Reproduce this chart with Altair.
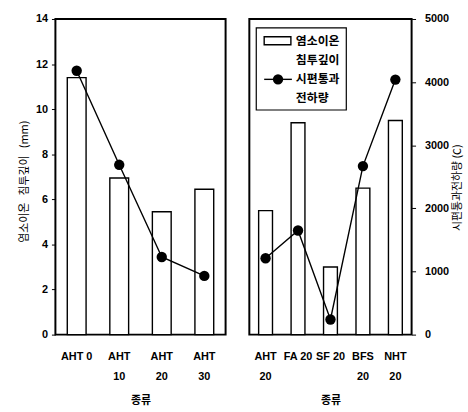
import altair as alt
import pandas as pd

# ---- data ----
left_cats = ["AHT 0", "AHT\n10", "AHT\n20", "AHT\n30"]
left_depth = [11.4, 6.95, 5.45, 6.45]
left_charge = [4180, 2690, 1230, 930]

right_cats = ["AHT\n20", "FA 20", "SF 20", "BFS\n20", "NHT\n20"]
right_depth = [5.5, 9.4, 3.0, 6.5, 9.5]
right_charge = [1210, 1650, 240, 2670, 4040]

legend_bar_text = ["염소이온", "침투깊이"]
legend_line_text = ["시편통과", "전하량"]

left_df = pd.DataFrame({"cat": left_cats, "depth": left_depth, "charge": left_charge})
right_df = pd.DataFrame({"cat": right_cats, "depth": right_depth, "charge": right_charge})

NUM_FONT = "Liberation Sans"
KR_FONT = "Noto Sans CJK KR"
NB = "\u00a0"

H = 319


def x_enc(cats):
    return alt.X(
        "cat:N",
        sort=cats,
        scale=alt.Scale(paddingInner=0, paddingOuter=0),
        axis=alt.Axis(
            title="종류",
            labelAngle=0,
            labelExpr="split(datum.label, '\\n')",
            labelFont=NUM_FONT,
            labelFontWeight="bold",
            labelFontSize=11,
            labelLineHeight=20,
            labelColor="black",
            labelPadding=22,
            labelOverlap=False,
            labelBaseline="middle",
            ticks=False,
            domain=False,
            titleFont=KR_FONT,
            titleFontSize=11,
            titleFontWeight="bold",
            titlePadding=14,
            titleColor="black",
        ),
    )


# ---- left panel ----
left_bars = alt.Chart(left_df).mark_bar(
    size=19, fill="white", stroke="black", strokeWidth=1.4
).encode(
    x=x_enc(left_cats),
    y=alt.Y(
        "depth:Q",
        scale=alt.Scale(domain=[0, 14], nice=False),
        axis=alt.Axis(
            title="염소이온" + NB * 3 + "침투깊이" + NB * 3 + "(mm)",
            values=[0, 2, 4, 6, 8, 10, 12, 14],
            grid=False,
            domain=False,
            tickColor="black",
            tickSize=4,
            labelFont=NUM_FONT,
            labelFontWeight="bold",
            labelFontSize=11,
            labelColor="black",
            labelPadding=4,
            titleFont=KR_FONT,
            titleFontSize=11,
            titleFontWeight="normal",
            titleColor="black",
            titleX=-31,
            titleY=164,
            titleAlign="center",
            titleBaseline="middle",
        ),
    ),
)

left_line = alt.Chart(left_df).mark_line(color="black", strokeWidth=1.4).encode(
    x=alt.X("cat:N", sort=left_cats),
    y=alt.Y("charge:Q", scale=alt.Scale(domain=[0, 5000], nice=False), axis=None),
)
left_pts = alt.Chart(left_df).mark_point(
    filled=True, color="black", size=110, opacity=1
).encode(
    x=alt.X("cat:N", sort=left_cats),
    y=alt.Y("charge:Q", scale=alt.Scale(domain=[0, 5000], nice=False), axis=None),
)

left = alt.layer(left_bars, left_line + left_pts).resolve_scale(y="independent").properties(
    width=172, height=H
)

# ---- right panel ----
right_bars = alt.Chart(right_df).mark_bar(
    size=14, fill="white", stroke="black", strokeWidth=1.4
).encode(
    x=x_enc(right_cats),
    y=alt.Y("depth:Q", scale=alt.Scale(domain=[0, 14], nice=False), axis=None),
)

right_axis = alt.Axis(
    orient="right",
    title="시편통과전하량 (C)",
    values=[0, 1000, 2000, 3000, 4000, 5000],
    format="d",
    grid=False,
    domain=False,
    tickColor="black",
    tickSize=4,
    labelFont=NUM_FONT,
    labelFontWeight="bold",
    labelFontSize=11,
    labelColor="black",
    labelPadding=9,
    titleFont=KR_FONT,
    titleFontSize=11,
    titleFontWeight="normal",
    titleColor="black",
    titleAngle=270,
    titleX=46,
    titleY=170,
    titleAlign="center",
    titleBaseline="middle",
)

right_line = alt.Chart(right_df).mark_line(color="black", strokeWidth=1.4).encode(
    x=alt.X("cat:N", sort=right_cats),
    y=alt.Y("charge:Q", scale=alt.Scale(domain=[0, 5000], nice=False), axis=right_axis),
)
right_pts = alt.Chart(right_df).mark_point(
    filled=True, color="black", size=110, opacity=1
).encode(
    x=alt.X("cat:N", sort=right_cats),
    y=alt.Y("charge:Q", scale=alt.Scale(domain=[0, 5000], nice=False)),
)

# ---- manual legend ----
one = pd.DataFrame({"k": [0]})
leg_box = alt.Chart(one).mark_rect(fill="white", stroke="black", strokeWidth=1.2).encode(
    x=alt.value(7), x2=alt.value(98), y=alt.value(9), y2=alt.value(92)
)
leg_rect = alt.Chart(one).mark_rect(fill="white", stroke="black", strokeWidth=1.4).encode(
    x=alt.value(15), x2=alt.value(42), y=alt.value(18), y2=alt.value(26)
)
leg_rule = alt.Chart(one).mark_rule(color="black", strokeWidth=1.4).encode(
    x=alt.value(15), x2=alt.value(43), y=alt.value(61)
)
leg_dot = alt.Chart(one).mark_point(filled=True, color="black", size=110, opacity=1).encode(
    x=alt.value(29), y=alt.value(61)
)
leg_t1 = alt.Chart(one).mark_text(
    font=KR_FONT, fontSize=12, fontWeight="bold", align="left", baseline="middle",
    lineHeight=19, color="black"
).encode(x=alt.value(47), y=alt.value(22), text=alt.value(legend_bar_text))
leg_t2 = alt.Chart(one).mark_text(
    font=KR_FONT, fontSize=12, fontWeight="bold", align="left", baseline="middle",
    lineHeight=19, color="black"
).encode(x=alt.value(47), y=alt.value(61), text=alt.value(legend_line_text))

legend = alt.layer(leg_box, leg_rect, leg_rule, leg_dot, leg_t1, leg_t2)

right = alt.layer(
    right_bars, right_line + right_pts, legend
).resolve_scale(y="independent").properties(width=164, height=H)

chart = alt.hconcat(left, right, spacing=22).properties(
    padding={"left": 18, "top": 10, "right": 5, "bottom": 2},
    background="white",
).configure_view(stroke="black", strokeWidth=2)

chart.save("out.html", embed_options={"renderer": "svg", "actions": False})
